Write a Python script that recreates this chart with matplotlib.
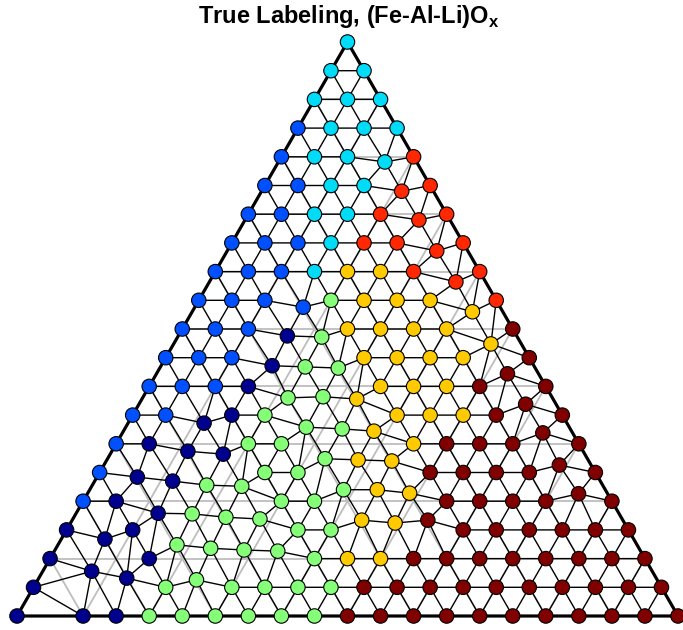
import numpy as np
import matplotlib
matplotlib.use("Agg")
import matplotlib.pyplot as plt
import matplotlib.tri as mtri

# ---------------- data ----------------
N_DIV = 20  # composition grid: 5 % steps

# Labels on the regular composition grid, one string per row (top vertex first).
# '.' = no sample at that grid node.
grid_rows = [
    "C",
    "CC",
    "CCC",
    "BCCC",
    "BCC.R",
    "BBCC.R",
    "BBCCR.R",
    "BBBCRR.R",
    "BBBCYYR.R",
    "BBB.GYYY.R",
    "BBB..YYYY.D",
    "BBB...YYYY.D",
    "BBBN...YYYD.D",
    "BB.NG...YYYD.D",
    "BN..GG...YDDD.D",
    "B....GG...DDDD.D",
    "BN....GG...DDDD.D",
    "N.N....GG...DDDDDD",
    "N..N....GYYDDDDDDDD",
    "N...G.GGGGDDDDDDDDDD",
    "N.NNGGGGGGDDDDDDDDDDD",
]

# Samples off the regular grid: composition in % (top component, right component)
off_top = [79.1, 74.0, 69.0, 63.6, 58.2, 53.8, 53.0, 48.8, 48.6, 47.4,
           43.6, 43.4, 43.2, 42.2, 38.0, 38.2, 37.8, 33.6, 32.9, 32.6,
           32.2, 36.9, 28.7, 28.2, 27.4, 27.2, 27.0, 31.9, 24.2, 23.5,
           22.8, 22.6, 22.0, 22.0, 21.4, 26.3, 17.9, 17.8, 17.2, 16.9,
           21.3, 13.4, 12.4, 11.8, 11.5, 11.3, 16.7, 16.2, 16.7, 7.8,
           6.6, 6.3]
off_right = [16.1, 21.2, 26.3, 31.7, 37.3, 16.4, 42.4, 16.5, 21.8, 48.0,
             16.8, 21.9, 27.0, 53.1, 22.0, 27.2, 32.5, 11.5, 27.3, 32.9,
             37.9, 58.5, 11.5, 17.1, 32.9, 38.0, 43.2, 63.6, 6.1, 11.8,
             17.3, 22.7, 38.4, 43.5, 48.7, 68.9, 12.4, 17.6, 23.0, 28.3,
             74.3, 6.6, 18.0, 23.4, 28.6, 33.8, 43.8, 49.1, 53.8, 7.4,
             13.3, 24.0]
off_label = list("CRRRRBYNGYNGGDGGYNGGYDNNGYYDNNGGGYYDNGGGDNGGGGYYDNNG")

palette = {
    "N": "#00008F",
    "B": "#0050FF",
    "C": "#00DCF8",
    "G": "#86FF78",
    "Y": "#FFCA00",
    "R": "#FF2800",
    "D": "#800000",
}

title = r"True Labeling, (Fe-Al-Li)O$_\mathbf{x}$"

# ---------------- build points ----------------
tops, rights, labs = [], [], []
for r, s in enumerate(grid_rows):
    for k, ch in enumerate(s):
        if ch == ".":
            continue
        tops.append(1 - r / N_DIV)
        rights.append(k / N_DIV)
        labs.append(ch)
for t, rr, ch in zip(off_top, off_right, off_label):
    tops.append(t / 100.0)
    rights.append(rr / 100.0)
    labs.append(ch)
tops = np.array(tops)
rights = np.array(rights)
H = np.sqrt(3) / 2


def to_xy(top, right):
    top = np.asarray(top, dtype=float)
    right = np.asarray(right, dtype=float)
    return right + top / 2.0, top * H


px, py = to_xy(tops, rights)

# ---------------- figure ----------------
plt.rcParams["mathtext.fontset"] = "custom"
plt.rcParams["mathtext.bf"] = "Liberation Sans:bold"
plt.rcParams["mathtext.rm"] = "Liberation Sans"

fig = plt.figure(figsize=(6.83, 6.30), dpi=100)
ax = fig.add_axes([17 / 683, 14 / 630, 661 / 683, 574 / 630])
ax.set_xlim(0, 1)
ax.set_ylim(0, H)
ax.axis("off")

# ternary gridlines every 10 %
for v in np.arange(1, 10) / 10.0:
    for (t0, r0), (t1, r1) in [((v, 0), (v, 1 - v)),
                               ((0, v), (1 - v, v)),
                               ((0, 1 - v), (1 - v, 0))]:
        x0, y0 = to_xy(t0, r0)
        x1, y1 = to_xy(t1, r1)
        ax.plot([x0, x1], [y0, y1], color="#BDBDBD", lw=1.3, zorder=1,
                solid_capstyle="butt")

# neighbourhood graph (Delaunay triangulation of the sample positions)
tri = mtri.Triangulation(px, py)
ax.triplot(tri, color="black", lw=1.0, zorder=2)

# outer triangle
bx, by = to_xy([0, 0, 1, 0], [0, 1, 0, 0])
ax.plot(bx, by, color="black", lw=2.3, zorder=3, solid_joinstyle="miter",
        clip_on=False)

cols = [palette[c] for c in labs]
ax.scatter(px, py, s=108, c=cols, edgecolors="black", linewidths=0.8,
           zorder=4, clip_on=False)

fig.text(349 / 683, 1 - 16 / 630, title, ha="center", va="center",
         fontsize=17, fontweight="bold", family="Liberation Sans")

fig.savefig("out.png", dpi=100)
